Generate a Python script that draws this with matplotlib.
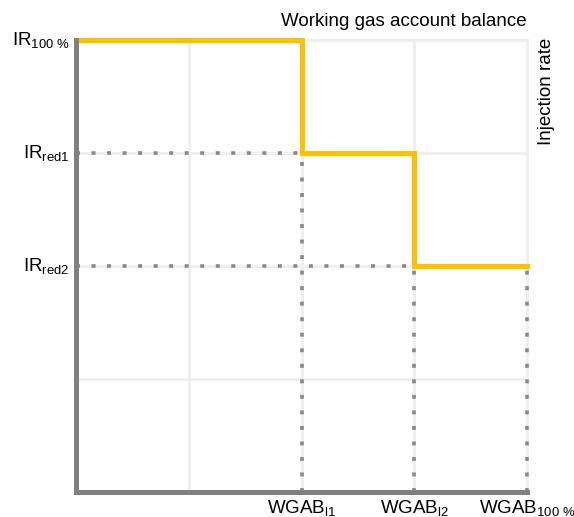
import matplotlib
matplotlib.use("Agg")
import matplotlib.pyplot as plt

plt.rcParams['font.family'] = ['Liberation Sans', 'DejaVu Sans']
plt.rcParams['mathtext.fontset'] = 'custom'
plt.rcParams['mathtext.rm'] = 'Liberation Sans'
plt.rcParams['mathtext.it'] = 'Liberation Sans'

# Data
step_x = [0, 2, 2, 3, 3, 4]
step_y = [4, 4, 3, 3, 2, 2]
levels_x = [2, 3, 4]          # WGAB thresholds
levels_y = [4, 3, 2]          # IR levels
x_labels = [r'WGAB$_{\mathrm{l1}}$', r'WGAB$_{\mathrm{l2}}$', r'WGAB$_{\mathrm{100\ \%}}$']
y_labels = [r'IR$_{\mathrm{100\ \%}}$', r'IR$_{\mathrm{red1}}$', r'IR$_{\mathrm{red2}}$']
grid_vals = [0, 1, 2, 3, 4]

fig = plt.figure(figsize=(5.74, 5.17), dpi=100)
ax = fig.add_axes([76/574, 1-492/517, 451/574, 452/517])
ax.set_xlim(0, 4)
ax.set_ylim(0, 4)

grid_c = '#efefef'
for v in grid_vals:
    ax.axvline(v, color=grid_c, lw=2.2, clip_on=False, zorder=0)
    ax.axhline(v, color=grid_c, lw=2.2, clip_on=False, zorder=0)

dot = dict(color='#888888', lw=2.6, linestyle=(0, (1.1, 3.2)), zorder=2)
# horizontal dotted
ax.plot([0, levels_x[0]], [levels_y[1], levels_y[1]], **dot)
ax.plot([0, levels_x[1]], [levels_y[2], levels_y[2]], **dot)
# vertical dotted
ax.plot([levels_x[0], levels_x[0]], [0, levels_y[1]], **dot)
ax.plot([levels_x[1], levels_x[1]], [0, levels_y[2]], **dot)
ax.plot([levels_x[2], levels_x[2]], [0, levels_y[2]], clip_on=False, **dot)

ax.plot(step_x, step_y, color='#FFC000', lw=3.6, solid_joinstyle='miter',
        clip_on=False, zorder=3)

for s in ['top', 'right']:
    ax.spines[s].set_visible(False)
for s in ['left', 'bottom']:
    ax.spines[s].set_color('#808080')
    ax.spines[s].set_linewidth(3.6)
    ax.spines[s].set_capstyle('projecting')
    ax.spines[s].set_zorder(4)

ax.set_xticks([])
ax.set_yticks([])

fs = 13.5
for y, lab in zip(levels_y, y_labels):
    ax.text(-0.06, y, lab, ha='right', va='center', fontsize=fs)
for x, lab in zip(levels_x, x_labels):
    ax.text(x, -0.05, lab, ha='center', va='top', fontsize=fs)

ax.text(4.0, 4.09, 'Working gas account balance', ha='right', va='bottom', fontsize=fs)
ax.text(4.1, 4.02, 'Injection rate', ha='left', va='top', rotation=90, fontsize=fs)

fig.savefig('out.png', dpi=100)
